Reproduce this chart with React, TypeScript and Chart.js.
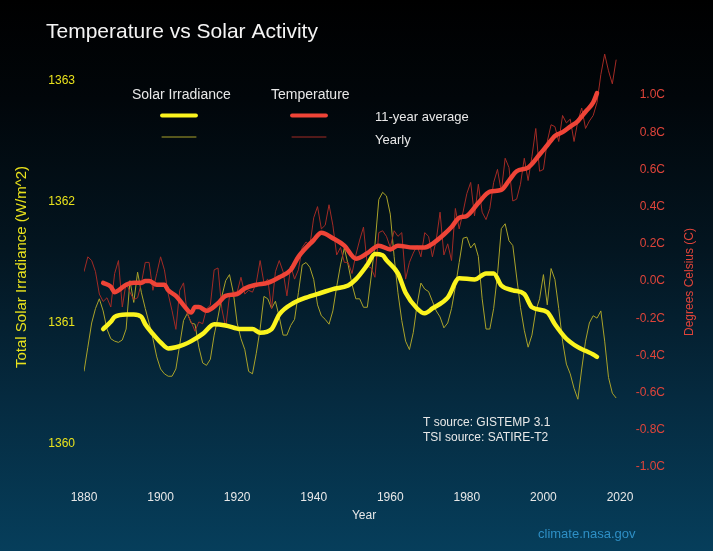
import { useEffect, useRef } from "react";
import { Chart, registerables } from "chart.js";

Chart.register(...registerables);

const FONT = '"Liberation Sans", Arial, Helvetica, sans-serif';

const TITLE = "Temperature vs Solar Activity";
const FIRST_YEAR = 1880;

// Yearly temperature anomaly (°C), 1880–2019
const TEMP_YEARLY = [
  0.05, 0.13, 0.11, 0.05, -0.07, -0.11, -0.09, -0.14, 0.04, 0.11,
  -0.14, -0.01, -0.06, -0.1, -0.09, -0.01, 0.1, 0.1, -0.05, 0.04,
  0.13, 0.06, -0.07, -0.16, -0.26, -0.05, -0.01, -0.18, -0.22, -0.27,
  -0.22, -0.23, -0.15, -0.13, 0.06, 0.07, -0.15, -0.25, -0.08, -0.06,
  -0.06, 0.02, -0.07, -0.05, -0.06, -0.01, 0.11, -0.01, 0.01, -0.15,
  0.05, 0.11, 0.05, -0.08, 0.08, 0.01, 0.06, 0.18, 0.21, 0.19,
  0.34, 0.4, 0.28, 0.3, 0.41, 0.3, 0.14, 0.18, 0.1, 0.1,
  0.04, 0.14, 0.22, 0.29, 0.08, 0.07, 0.02, 0.26, 0.27, 0.24,
  0.18, 0.27, 0.24, 0.26, 0.01, 0.1, 0.15, 0.19, 0.13, 0.26,
  0.24, 0.13, 0.22, 0.37, 0.14, 0.2, 0.11, 0.39, 0.28, 0.37,
  0.47, 0.53, 0.35, 0.52, 0.37, 0.33, 0.39, 0.53, 0.6, 0.48,
  0.66, 0.61, 0.43, 0.44, 0.52, 0.66, 0.54, 0.67, 0.82, 0.59,
  0.6, 0.75, 0.84, 0.83, 0.75, 0.89, 0.85, 0.87, 0.75, 0.86,
  0.93, 0.82, 0.86, 0.89, 0.96, 1.11, 1.22, 1.13, 1.06, 1.19,
];

// Yearly total solar irradiance (W/m^2), 1880–2019
const TSI_YEARLY = [
  1360.6, 1360.8, 1361.0, 1361.12, 1361.2, 1361.1, 1360.95, 1360.87, 1360.85, 1360.84,
  1360.86, 1360.95, 1361.35, 1361.17, 1361.42, 1361.25, 1361.12, 1361.0, 1360.87, 1360.72,
  1360.62, 1360.58, 1360.56, 1360.56, 1360.62, 1360.82, 1361.02, 1361.08, 1361.0, 1360.99,
  1360.8, 1360.67, 1360.65, 1360.7, 1360.9, 1361.05, 1361.22, 1361.35, 1361.4, 1361.25,
  1361.0, 1360.87, 1360.78, 1360.6, 1360.58, 1360.75, 1360.95, 1361.22, 1361.2, 1361.12,
  1361.18, 1361.05, 1360.9, 1360.9, 1360.98, 1361.03, 1361.25, 1361.48, 1361.5, 1361.46,
  1361.36, 1361.15, 1361.06, 1361.03, 1360.99, 1361.1, 1361.3, 1361.48, 1361.62, 1361.48,
  1361.32, 1361.2, 1361.2, 1361.13, 1361.13, 1361.38, 1361.65, 1362.02, 1362.08, 1362.05,
  1361.9, 1361.55, 1361.25, 1361.02, 1360.85, 1360.78, 1360.92, 1361.15, 1361.33, 1361.28,
  1361.26, 1361.18, 1361.1, 1361.05, 1360.96, 1361.0, 1361.12, 1361.3, 1361.5, 1361.7,
  1361.71, 1361.62, 1361.66, 1361.55, 1361.2, 1360.95, 1360.95, 1361.12, 1361.4, 1361.78,
  1361.82, 1361.68, 1361.64, 1361.38, 1361.13, 1360.94, 1360.8, 1360.9, 1361.1, 1361.2,
  1361.4, 1361.15, 1361.45, 1361.36, 1361.12, 1360.85, 1360.66, 1360.58, 1360.46, 1360.37,
  1360.62, 1360.85, 1361.0, 1361.06, 1361.04, 1361.1, 1360.85, 1360.55, 1360.42, 1360.38,
];

// 11-year running average of temperature
const TEMP_AVG_YEARS = [
  1885, 1887, 1888, 1889, 1891, 1893, 1895, 1896, 1897, 1899, 1901, 1902, 1904, 1906, 1908,
  1909, 1910, 1912, 1915, 1917, 1920, 1922, 1925, 1928, 1931, 1934, 1936, 1940, 1942, 1945,
  1948, 1951, 1954, 1957, 1960, 1962, 1966, 1969, 1971, 1974, 1976, 1978, 1980, 1983, 1986,
  1989, 1991, 1993, 1996, 1999, 2001, 2003, 2005, 2007, 2009, 2011, 2013, 2014,
];
const TEMP_AVG = [
  -0.01, -0.03, -0.06, -0.05, -0.02, -0.01, -0.01, 0.0, 0.0, -0.02, -0.02, -0.05, -0.08, -0.13, -0.17,
  -0.14, -0.14, -0.16, -0.12, -0.08, -0.07, -0.04, -0.02, -0.01, 0.02, 0.06, 0.13, 0.22, 0.26, 0.23,
  0.19, 0.12, 0.15, 0.19, 0.17, 0.19, 0.18, 0.18, 0.2, 0.25, 0.29, 0.34, 0.35, 0.42, 0.48,
  0.49, 0.54, 0.59, 0.61, 0.68, 0.73, 0.78, 0.8, 0.83, 0.86, 0.91, 0.96, 1.01,
];

// 11-year running average of solar irradiance
const TSI_AVG_YEARS = [
  1885, 1887, 1888, 1891, 1893, 1895, 1896, 1898, 1900, 1902, 1904, 1906, 1908, 1911, 1914,
  1917, 1921, 1924, 1926, 1929, 1931, 1935, 1938, 1942, 1945, 1949, 1951, 1954, 1956, 1958,
  1959, 1962, 1964, 1967, 1969, 1971, 1975, 1978, 1982, 1985, 1987, 1989, 1992, 1995, 1997,
  2001, 2003, 2006, 2009, 2011, 2013, 2014,
];
const TSI_AVG = [
  1360.95, 1361.01, 1361.05, 1361.07, 1361.07, 1361.05, 1360.99, 1360.91, 1360.84, 1360.79, 1360.8, 1360.82, 1360.85, 1360.91, 1360.99,
  1360.98, 1360.95, 1360.95, 1360.92, 1360.95, 1361.07, 1361.17, 1361.21, 1361.25, 1361.28, 1361.31, 1361.36, 1361.48, 1361.57, 1361.56,
  1361.52, 1361.41, 1361.25, 1361.12, 1361.08, 1361.12, 1361.21, 1361.37, 1361.36, 1361.41, 1361.41, 1361.31, 1361.27, 1361.24, 1361.13,
  1361.09, 1360.99, 1360.87, 1360.8, 1360.77, 1360.74, 1360.72,
];

const YEAR_TICKS = [1880, 1900, 1920, 1940, 1960, 1980, 2000, 2020];
const TSI_TICKS = [1360, 1361, 1362, 1363];
const TEMP_TICKS = [-1.0, -0.8, -0.6, -0.4, -0.2, 0.0, 0.2, 0.4, 0.6, 0.8, 1.0];

const YELLOW = "#fbf41e";
const YELLOW_THIN = "#aaa32a";
const RED = "#ef4437";
const RED_THIN = "#a32b25";
const YELLOW_TEXT = "#e9e21c";
const RED_TEXT = "#e0443a";
const LIGHT_TEXT = "#e8e8e8";

const W = 713;
const H = 551;

const years = TEMP_YEARLY.map((_, i) => FIRST_YEAR + i);
const pairs = (xs: number[], ys: number[]) => xs.map((x, i) => ({ x, y: ys[i] }));

const overlayText = {
  id: "overlayText",
  afterDraw(chart: Chart) {
    const ctx = chart.ctx;
    ctx.save();
    ctx.textAlign = "left";
    ctx.textBaseline = "alphabetic";

    ctx.font = `21px ${FONT}`;
    ctx.fillStyle = "#f4f4f4";
    ctx.fillText(TITLE, 46, 37.5);

    // legend
    ctx.font = `14px ${FONT}`;
    ctx.fillStyle = LIGHT_TEXT;
    ctx.fillText("Solar Irradiance", 132, 99);
    ctx.fillText("Temperature", 271, 99);
    ctx.font = `13px ${FONT}`;
    ctx.fillText("11-year average", 375, 121);
    ctx.fillText("Yearly", 375, 143.5);

    const swatch = (x0: number, x1: number, y: number, color: string, w: number) => {
      ctx.beginPath();
      ctx.lineCap = "round";
      ctx.strokeStyle = color;
      ctx.lineWidth = w;
      ctx.moveTo(x0, y);
      ctx.lineTo(x1, y);
      ctx.stroke();
    };
    swatch(162, 196, 115.5, YELLOW, 3.8);
    swatch(292, 326, 115.5, RED, 3.8);
    swatch(162, 196, 137, YELLOW_THIN, 1);
    swatch(292, 326, 137, RED_THIN, 1);

    // sources and credit
    ctx.font = `12px ${FONT}`;
    ctx.fillStyle = LIGHT_TEXT;
    ctx.fillText("T source: GISTEMP 3.1", 423, 426);
    ctx.fillText("TSI source: SATIRE-T2", 423, 440.5);

    ctx.font = `13px ${FONT}`;
    ctx.fillStyle = "#2e8fc5";
    ctx.fillText("climate.nasa.gov", 538, 538);

    // axis titles
    ctx.font = `12px ${FONT}`;
    ctx.textAlign = "center";
    ctx.textBaseline = "middle";
    ctx.fillStyle = LIGHT_TEXT;
    ctx.fillText("Year", 364, 516);

    ctx.save();
    ctx.translate(22, 267);
    ctx.rotate(-Math.PI / 2);
    ctx.font = `15px ${FONT}`;
    ctx.fillStyle = YELLOW_TEXT;
    ctx.fillText("Total Solar Irradiance (W/m^2)", 0, 0);
    ctx.restore();

    ctx.save();
    ctx.translate(690, 282);
    ctx.rotate(-Math.PI / 2);
    ctx.font = `12px ${FONT}`;
    ctx.fillStyle = RED_TEXT;
    ctx.fillText("Degrees Celsius (C)", 0, 0);
    ctx.restore();

    ctx.restore();
  },
};

export default function App() {
  const canvasRef = useRef<HTMLCanvasElement | null>(null);

  useEffect(() => {
    const canvas = canvasRef.current;
    if (!canvas) return;

    const chart = new Chart(canvas, {
      type: "line",
      data: {
        datasets: [
          {
            label: "Solar Irradiance 11-year average",
            data: pairs(TSI_AVG_YEARS, TSI_AVG),
            yAxisID: "yS",
            borderColor: YELLOW,
            borderWidth: 4.5,
            borderCapStyle: "round",
            borderJoinStyle: "round",
            cubicInterpolationMode: "monotone",
            pointRadius: 0,
          },
          {
            label: "Temperature 11-year average",
            data: pairs(TEMP_AVG_YEARS, TEMP_AVG),
            yAxisID: "yT",
            borderColor: RED,
            borderWidth: 4.5,
            borderCapStyle: "round",
            borderJoinStyle: "round",
            cubicInterpolationMode: "monotone",
            pointRadius: 0,
          },
          {
            label: "Temperature yearly",
            data: pairs(years, TEMP_YEARLY),
            yAxisID: "yT",
            borderColor: RED_THIN,
            borderWidth: 1,
            tension: 0,
            pointRadius: 0,
          },
          {
            label: "Solar Irradiance yearly",
            data: pairs(years, TSI_YEARLY),
            yAxisID: "yS",
            borderColor: YELLOW_THIN,
            borderWidth: 1,
            tension: 0,
            pointRadius: 0,
          },
        ],
      },
      options: {
        responsive: false,
        animation: false,
        devicePixelRatio: 1,
        layout: { padding: { top: 40, left: 0, right: 48, bottom: 0 } },
        plugins: {
          legend: { display: false },
          title: { display: false },
          tooltip: { enabled: false },
        },
        elements: { line: { fill: false } },
        scales: {
          x: {
            type: "linear",
            min: 1880,
            max: 2020,
            grid: { display: false, drawTicks: false },
            border: { display: false },
            afterFit: (s: any) => {
              s.height = H - 480;
            },
            afterBuildTicks: (s: any) => {
              s.ticks = YEAR_TICKS.map((v) => ({ value: v }));
            },
            ticks: {
              autoSkip: false,
              maxRotation: 0,
              padding: 10,
              color: LIGHT_TEXT,
              font: { family: FONT, size: 12 },
              callback: (v: any) => String(v),
            },
          },
          yS: {
            type: "linear",
            position: "left",
            min: 1359.7025,
            max: 1363.3388,
            grid: { display: false, drawTicks: false },
            border: { display: false },
            afterFit: (s: any) => {
              s.width = 84;
            },
            afterBuildTicks: (s: any) => {
              s.ticks = TSI_TICKS.map((v) => ({ value: v }));
            },
            ticks: {
              autoSkip: false,
              padding: 9,
              color: YELLOW_TEXT,
              font: { family: FONT, size: 12 },
              callback: (v: any) => String(v),
            },
          },
          yT: {
            type: "linear",
            position: "right",
            min: -1.0699,
            max: 1.2957,
            grid: { display: false, drawTicks: false },
            border: { display: false },
            afterFit: (s: any) => {
              s.width = 45;
            },
            afterBuildTicks: (s: any) => {
              s.ticks = TEMP_TICKS.map((v) => ({ value: v }));
            },
            ticks: {
              autoSkip: false,
              padding: 4,
              crossAlign: "far",
              color: RED_TEXT,
              font: { family: FONT, size: 12 },
              callback: (v: any) => Number(v).toFixed(1) + "C",
            },
          },
        },
      },
      plugins: [overlayText],
    });

    return () => chart.destroy();
  }, []);

  return (
    <div
      style={{
        position: "fixed",
        left: 0,
        top: 0,
        width: W,
        height: H,
        background:
          "linear-gradient(to bottom, #000000 0%, #01060a 18%, #031520 45%, #052a3f 72%, #063e5b 100%)",
      }}
    >
      <canvas ref={canvasRef} width={W} height={H} style={{ display: "block" }} />
    </div>
  );
}
